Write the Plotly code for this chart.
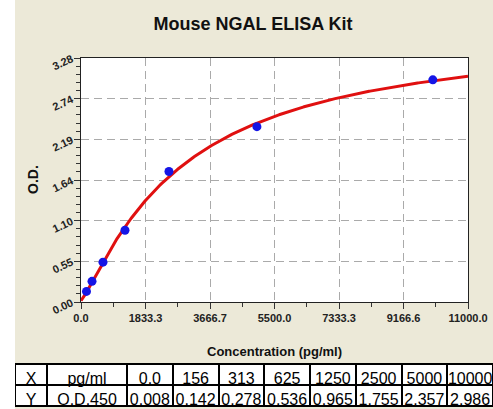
import numpy as np
import plotly.graph_objects as go

OFF = 15                  # white strip on the left of the original image
W, H = 493 - OFF, 409

# ---- data ----
table_x = ["0.0", "156", "313", "625", "1250", "2500", "5000", "10000"]
table_y = ["0.008", "0.142", "0.278", "0.536", "0.965", "1.755", "2.357", "2.986"]
conc = [156, 313, 625, 1250, 2500, 5000, 10000]
od = [0.142, 0.278, 0.536, 0.965, 1.755, 2.357, 2.986]
x_tickvals = [0, 1833.3, 3666.7, 5500.0, 7333.3, 9166.6, 11000.0]
x_ticktext = ["0.0", "1833.3", "3666.7", "5500.0", "7333.3", "9166.6", "11000.0"]
y_tickvals = [0.00, 0.5467, 1.0933, 1.64, 2.1867, 2.7333, 3.28]
y_ticktext = ["0.00", "0.55", "1.10", "1.64", "2.19", "2.74", "3.28"]

# ---- 4PL fit of standard curve (from the table data) ----
fx = np.array([float(v) for v in table_x])
fy = np.array([float(v) for v in table_y])
B = np.arange(0.5, 2.5, 0.01)[:, None, None]
C = np.arange(500, 30000, 50.0)[None, :, None]
xs = fx[None, None, :]
G = xs ** B / (xs ** B + C ** B)
gm = G.mean(axis=2, keepdims=True)
ym = fy.mean()
k = ((G - gm) * (fy - ym)).sum(axis=2, keepdims=True) / ((G - gm) ** 2).sum(axis=2, keepdims=True)
a = ym - k * gm
sse = ((a + k * G - fy) ** 2).sum(axis=2)
i, j = np.unravel_index(np.argmin(sse), sse.shape)
b_best, c_best = B[i, 0, 0], C[0, j, 0]
a_best, k_best = a[i, j, 0], k[i, j, 0]
cx = np.linspace(0, 11000, 400)
cy = a_best + k_best * cx ** b_best / (cx ** b_best + c_best ** b_best)

# ---- layout geometry (pixels, in original-image coordinates) ----
PL, PR, PT, PB = 81 - OFF, 468 - OFF, 58, 302
BEIGE = "#ECE9D8"
FONT = "Liberation Sans, Arial, sans-serif"

fig = go.Figure()
fig.add_trace(go.Scatter(x=cx, y=cy, mode="lines",
                         line=dict(color="#E01010", width=3), showlegend=False))
fig.add_trace(go.Scatter(x=conc, y=od, mode="markers",
                         marker=dict(color="#1515E6", size=9), showlegend=False))

fig.add_trace(go.Table(
    domain=dict(x=[0, 1], y=[0, 45 / H]),
    columnwidth=[32, 80] + [45.75] * 8,
    header=dict(values=["X", "pg/ml"] + table_x, align="center",
                fill_color="white", line=dict(color="black", width=2),
                font=dict(family=FONT, size=16, color="black"), height=21),
    cells=dict(values=[["Y"], ["O.D.450"]] + [[v] for v in table_y], align="center",
               fill_color="white", line=dict(color="black", width=2),
               font=dict(family=FONT, size=16, color="black"), height=21),
))

fig.update_layout(
    width=W, height=H,
    margin=dict(l=0, r=0, t=0, b=0),
    paper_bgcolor=BEIGE,
    plot_bgcolor="white",
    font=dict(family=FONT),
    title=dict(text="<b>Mouse NGAL ELISA Kit</b>", x=(253 - OFF) / W, xanchor="center",
               y=1 - 24 / H, yanchor="middle", yref="container",
               font=dict(family=FONT, size=18, color="#111")),
    annotations=[
        dict(text="<b>Concentration (pg/ml)</b>", xref="paper", yref="paper",
             x=(PL + PR) / 2 / W, y=1 - 351 / H, showarrow=False,
             font=dict(family=FONT, size=13, color="#111"), xanchor="center", yanchor="middle"),
        dict(text="<b>O.D.</b>", xref="paper", yref="paper",
             x=(33 - OFF) / W, y=1 - 180 / H, showarrow=False, textangle=-90,
             font=dict(family=FONT, size=14, color="#111"), xanchor="center", yanchor="middle"),
    ],
)

fig.update_xaxes(
    domain=[PL / W, PR / W], range=[0, 11000], automargin=False,
    tickmode="array", tickvals=x_tickvals, ticktext=x_ticktext,
    ticks="outside", ticklen=6, tickcolor="#333", tickwidth=1,
    tickfont=dict(family=FONT, size=11, color="#222", weight="bold"),
    showgrid=True, gridcolor="#AAAAAA", griddash="8px,5px", gridwidth=1,
    showline=True, linecolor="#222", linewidth=1, mirror=True, zeroline=False,
    minor=dict(tickmode="linear", tick0=0, dtick=11000 / 12, ticks="outside",
               ticklen=4, tickcolor="#333", showgrid=False),
)
fig.update_yaxes(
    domain=[(H - PB) / H, (H - PT) / H], range=[0, 3.28], automargin=False,
    tickmode="array", tickvals=y_tickvals, ticktext=y_ticktext,
    ticks="outside", ticklen=6, tickcolor="#333", tickwidth=1, tickangle=-25,
    tickfont=dict(family=FONT, size=11, color="#222", weight="bold"),
    showgrid=True, gridcolor="#AAAAAA", griddash="8px,5px", gridwidth=1,
    showline=True, linecolor="#222", linewidth=1, mirror=True, zeroline=False,
    minor=dict(tickmode="linear", tick0=0, dtick=3.28 / 30, ticks="outside",
               ticklen=4, tickcolor="#333", showgrid=False),
)

post = (
    "document.body.style.margin='0 0 0 %dpx';"
    "document.body.style.background='white';"
    "document.body.style.overflow='hidden';"
    "try{var gd=document.getElementById('{plot_id}');"
    "gd.style.background='%s';"
    "var s=gd.querySelectorAll('.main-svg');if(s.length){s[0].style.background='%s';}"
    "}catch(e){}"
) % (OFF, BEIGE, BEIGE)

fig.write_html("out.html", config={"displayModeBar": False}, post_script=post)
